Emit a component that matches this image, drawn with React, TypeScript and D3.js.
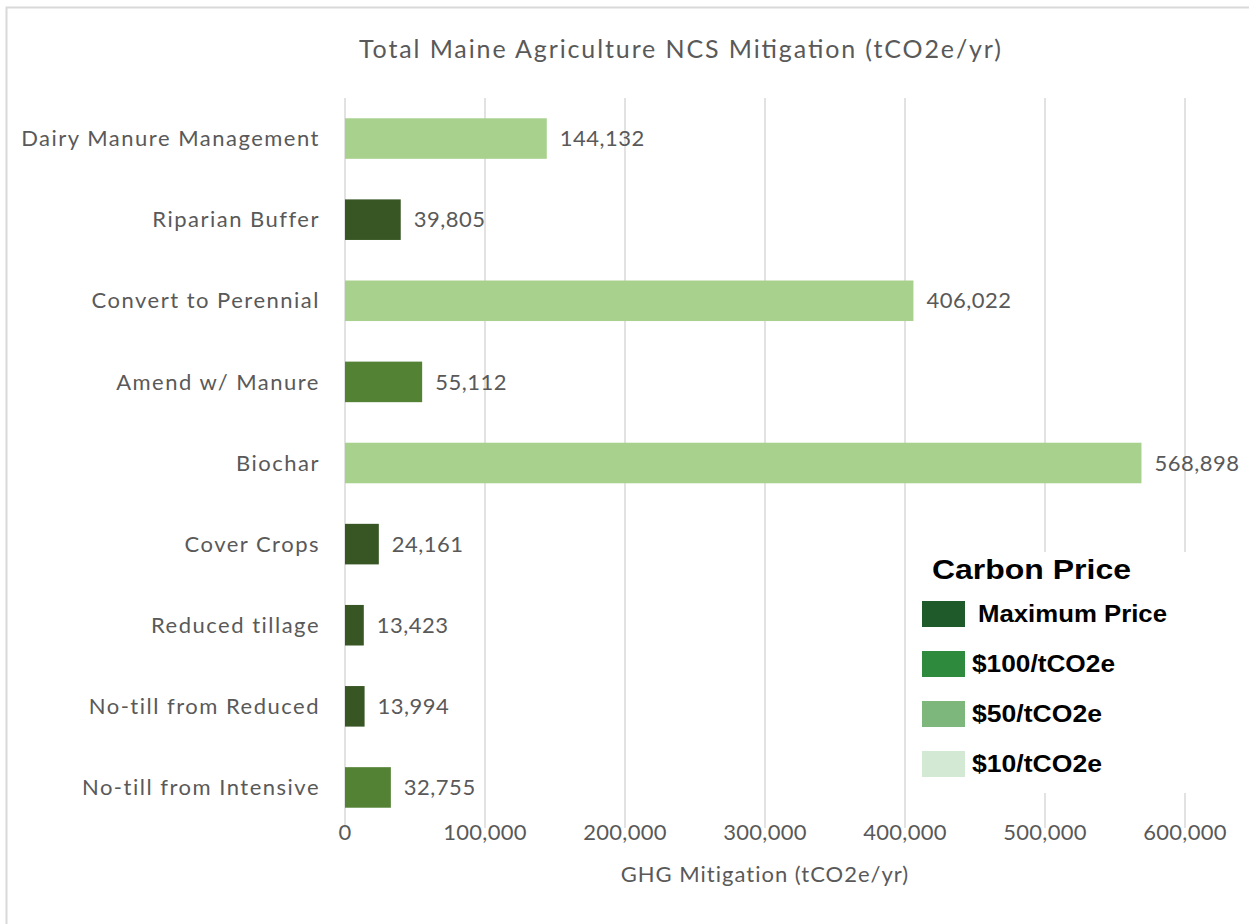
import React, { useEffect, useRef } from "react";
import * as d3 from "d3";

const categories = [
  "Dairy Manure Management",
  "Riparian Buffer",
  "Convert to Perennial",
  "Amend w/ Manure",
  "Biochar",
  "Cover Crops",
  "Reduced tillage",
  "No-till from Reduced",
  "No-till from Intensive",
];
const values = [144132, 39805, 406022, 55112, 568898, 24161, 13423, 13994, 32755];
const priceGroup = ["$50", "Max", "$50", "$100", "$50", "Max", "Max", "Max", "$100"];
const xTicks = [0, 100000, 200000, 300000, 400000, 500000, 600000];
const legendLabels = ["Maximum Price", "$100/tCO2e", "$50/tCO2e", "$10/tCO2e"];
const legendColors = ["#1f5a2a", "#2e8b3e", "#7db77b", "#d3e9d3"];
const barColorMap: Record<string, string> = { Max: "#375623", "$100": "#548235", "$50": "#a9d18e" };

export default function App() {
  const ref = useRef<SVGSVGElement>(null);
  useEffect(() => {
    const svg = d3.select(ref.current);
    svg.selectAll("*").remove();
    const W = 1249, H = 924;
    const m = { left: 345, right: 1185, top: 98, bottom: 828 };
    const x = d3.scaleLinear().domain([0, 600000]).range([m.left, m.right]);
    const y = d3.scaleBand().domain(categories).range([m.top, m.bottom]).paddingInner(0.5).paddingOuter(0.25);
    const font = "Lato, 'Open Sans', sans-serif";
    const grey = "#595959";

    svg.append("rect").attr("x", 0).attr("y", 0).attr("width", W).attr("height", H).attr("fill", "#fff");
    svg.append("rect").attr("x", 6.5).attr("y", 7.5).attr("width", W + 20).attr("height", H + 20)
      .attr("fill", "none").attr("stroke", "#d9d9d9").attr("stroke-width", 2);

    svg.append("text").attr("x", 680).attr("y", 58).attr("text-anchor", "middle")
      .attr("font-family", font).attr("font-size", 25).attr("fill", grey)
      .attr("textLength", 642).attr("lengthAdjust", "spacing")
      .text("Total Maine Agriculture NCS Mitigation (tCO2e/yr)");

    // gridlines
    svg.append("g").selectAll("line").data(xTicks).join("line")
      .attr("x1", d => x(d)).attr("x2", d => x(d)).attr("y1", m.top).attr("y2", m.bottom)
      .attr("stroke", "#d9d9d9").attr("stroke-width", 1.5);

    // bars
    svg.append("g").selectAll("rect").data(categories).join("rect")
      .attr("x", x(0)).attr("y", d => y(d)!).attr("width", (d, i) => x(values[i]) - x(0))
      .attr("height", y.bandwidth()).attr("fill", (d, i) => barColorMap[priceGroup[i]]);

    // value labels
    svg.append("g").selectAll("text").data(categories).join("text")
      .attr("x", (d, i) => x(values[i]) + 13).attr("y", d => y(d)! + y.bandwidth() / 2)
      .attr("dy", "0.35em").attr("font-family", font).attr("font-size", 22).attr("letter-spacing", 0.5)
      .attr("fill", grey).text((d, i) => d3.format(",")(values[i]));

    // category labels
    svg.append("g").selectAll("text").data(categories).join("text")
      .attr("x", 320).attr("y", d => y(d)! + y.bandwidth() / 2)
      .attr("dy", "0.35em").attr("text-anchor", "end").attr("font-family", font).attr("font-size", 22)
      .attr("letter-spacing", 1.5).attr("fill", grey).text(d => d);

    // x tick labels
    svg.append("g").selectAll("text").data(xTicks).join("text")
      .attr("x", d => x(d)).attr("y", 832).attr("dy", "0.35em").attr("text-anchor", "middle")
      .attr("font-family", font).attr("font-size", 22).attr("letter-spacing", 0.3).attr("fill", grey)
      .text(d => d3.format(",")(d));

    svg.append("text").attr("x", 765).attr("y", 874).attr("dy", "0.35em").attr("text-anchor", "middle")
      .attr("font-family", font).attr("font-size", 22).attr("letter-spacing", 1).attr("fill", grey)
      .text("GHG Mitigation (tCO2e/yr)");

    // legend
    const lg = svg.append("g");
    lg.append("rect").attr("x", 907).attr("y", 552).attr("width", 350).attr("height", 241).attr("fill", "#fff");
    const lf = "'Liberation Sans', Arial, sans-serif";
    lg.append("text").attr("x", 932).attr("y", 579).attr("font-family", lf).attr("font-weight", "bold")
      .attr("font-size", 28).attr("fill", "#000").attr("textLength", 199).attr("lengthAdjust", "spacingAndGlyphs")
      .text("Carbon Price");
    const ly = d3.scaleBand().domain(legendLabels).range([589, 789]);
    lg.selectAll("rect.sw").data(legendLabels).join("rect").attr("class", "sw")
      .attr("x", 922).attr("y", d => ly(d)! + ly.bandwidth() / 2 - 13).attr("width", 43).attr("height", 26)
      .attr("fill", (d, i) => legendColors[i]);
    const lw = [189, 143, 130, 130];
    lg.selectAll("text.lt").data(legendLabels).join("text").attr("class", "lt")
      .attr("x", (d, i) => (i === 0 ? 978 : 972)).attr("y", d => ly(d)! + ly.bandwidth() / 2)
      .attr("dy", "0.36em").attr("font-family", lf).attr("font-weight", "bold").attr("font-size", 23)
      .attr("fill", "#000").attr("textLength", (d, i) => lw[i]).attr("lengthAdjust", "spacingAndGlyphs")
      .text(d => d);
  }, []);
  return <svg ref={ref} width={1249} height={924} style={{ position: "absolute", left: 0, top: 0 }} />;
}
